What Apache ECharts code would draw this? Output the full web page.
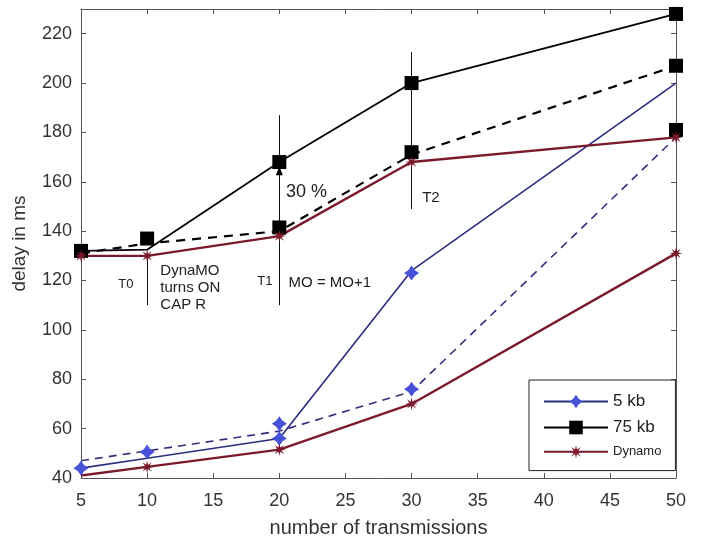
<!DOCTYPE html>
<html><head><meta charset="utf-8">
<script src="https://cdn.jsdelivr.net/npm/echarts@6/dist/echarts.min.js"></script>
<style>html,body{margin:0;padding:0;background:#fff}#c{width:705px;height:545px}</style>
</head><body><div id="c"></div>
<script>
// ---- data ----
const xs = [5, 10, 20, 30, 50];
const xTicks = [5, 10, 15, 20, 25, 30, 35, 40, 45, 50];
const yTicks = [40, 60, 80, 100, 120, 140, 160, 180, 200, 220];
const black75Solid = [132, 132.5, 168, 200, 228];
const black75Dashed = [131, 135, 140, 171, 207];
const dynamoUpper = [130, 130, 138, 168, 178];
const dynamoLower = [41, 44.5, 51.5, 70, 131];
const blue5Solid = [44, 48, 56, 124, 200];
const blue5Dashed = [47, 51, 59, 75, 178];
const squareX = [5, 10, 20, 20, 30, 30, 50, 50, 50];
const squareY = [132, 137, 168, 141.5, 200, 172, 228, 207, 181];
const starX = [5, 10, 20, 20, 30, 30];
const starY = [44, 50.5, 56, 62, 123, 76];
const astX = [5, 10, 20, 30, 50, 10, 20, 30, 50];
const astY = [130, 130, 138, 168, 178, 44.5, 51.5, 70, 131];
const vLines = [[10, 131, 110], [20, 187, 110], [30, 212.5, 149]];
const notes = [
  {text: 'T0', x: 8.4, y: 118.3, size: 13, align: 'center'},
  {text: 'DynaMO\nturns ON\nCAP R', x: 11.0, y: 127.5, size: 15, align: 'left', top: true},
  {text: 'T1', x: 18.9, y: 119.5, size: 13, align: 'center'},
  {text: 'MO = MO+1', x: 20.7, y: 119, size: 15, align: 'left'},
  {text: '30 %', x: 20.5, y: 156, size: 18, align: 'left'},
  {text: 'T2', x: 30.8, y: 153.5, size: 15, align: 'left'}
];

// ---- styles ----
function starPath(n, ro, ri, rot) {
  const p = [];
  for (let i = 0; i < 2 * n; i++) {
    const r = i % 2 === 0 ? ro : ri;
    const a = rot + Math.PI * i / n;
    p.push((r * Math.cos(a)).toFixed(3) + ' ' + (r * Math.sin(a)).toFixed(3));
  }
  return 'path://M' + p.join(' L') + ' Z';
}
const starSym = starPath(4, 10, 5.8, -Math.PI / 2);
const astSym = starPath(8, 10, 3.6, -Math.PI / 2);
const BLUE_LINE = '#2b2d80', BLUE_MK = '#4852d8', MAROON = '#7a1a2c', FONT = 'Liberation Sans, Arial, sans-serif';

const pair = (a, b) => a.map((x, i) => [x, b[i]]);

const chart = echarts.init(document.getElementById('c'));
const axisCommon = {
  type: 'value', axisLine: {show: true, lineStyle: {color: '#555', width: 1}},
  axisTick: {inside: true, length: 5, lineStyle: {color: '#555'}}, splitLine: {show: false}
};
chart.setOption({
  animation: false,
  backgroundColor: '#fff',
  grid: {left: 81, right: 29, top: 9, bottom: 67},
  xAxis: [
    Object.assign({}, axisCommon, {min: 5, max: 50, interval: 5, position: 'bottom',
      name: 'number of transmissions', nameLocation: 'middle', nameGap: 40,
      nameTextStyle: {fontSize: 20, color: '#333', fontFamily: FONT},
      axisLabel: {fontSize: 18, color: '#333', margin: 14, fontFamily: FONT,
        formatter: v => xTicks.includes(v) ? String(v) : ''}}),
    Object.assign({}, axisCommon, {min: 5, max: 50, interval: 5, position: 'top', axisLabel: {show: false}})
  ],
  yAxis: [
    Object.assign({}, axisCommon, {min: 40, max: 230, interval: 20, position: 'left',
      name: 'delay in ms', nameLocation: 'middle', nameGap: 52, nameRotate: 90,
      nameTextStyle: {fontSize: 19, color: '#333', fontFamily: FONT},
      axisLabel: {fontSize: 18, color: '#333', margin: 9, fontFamily: FONT, showMaxLabel: false,
        formatter: v => yTicks.includes(v) ? String(v) : ''}}),
    Object.assign({}, axisCommon, {min: 40, max: 230, interval: 20, position: 'right', axisLabel: {show: false}})
  ],
  legend: {
    data: [{name: '5 kb'}, {name: '75 kb'}, {name: 'Dynamo', textStyle: {fontSize: 13}}],
    orient: 'vertical', left: 529, top: 380, padding: [13, 14, 12, 14],
    itemWidth: 64, itemHeight: 17, itemGap: 9,
    borderColor: '#222', borderWidth: 1, backgroundColor: '#fff', borderRadius: 0,
    textStyle: {fontSize: 17, color: '#222', fontFamily: FONT}
  },
  series: [
    {name: '5 kb', type: 'line', data: pair(xs, blue5Solid), symbol: starSym, showSymbol: false, symbolSize: 14,
      lineStyle: {color: BLUE_LINE, width: 1.6}, itemStyle: {color: BLUE_MK}, z: 3},
    {name: '5 kb dashed', type: 'line', data: pair(xs, blue5Dashed), showSymbol: false, symbol: 'none',
      lineStyle: {color: '#3a2c7c', width: 1.6, type: [8, 6]}, z: 3},
    {name: '75 kb', type: 'line', data: pair(xs, black75Solid), symbol: 'rect', showSymbol: false, symbolSize: 14,
      lineStyle: {color: '#000', width: 1.8}, itemStyle: {color: '#000'}, z: 3},
    {name: '75 kb dashed', type: 'line', data: pair(xs, black75Dashed), showSymbol: false, symbol: 'none',
      lineStyle: {color: '#000', width: 2.2, type: [9, 7]}, z: 3,
      markLine: {silent: true, symbol: 'none', animation: false, label: {show: false},
        lineStyle: {color: '#111', width: 1, type: 'solid'},
        data: vLines.map(v => [{coord: [v[0], v[1]]}, {coord: [v[0], v[2]]}])},
      markPoint: {silent: true, symbol: 'triangle', symbolSize: [7, 9], itemStyle: {color: '#000'}, label: {show: false},
        data: [{coord: [20, 164.5]}]}},
    {name: 'Dynamo', type: 'line', data: pair(xs, dynamoUpper), symbol: astSym, showSymbol: false, symbolSize: 13,
      lineStyle: {color: MAROON, width: 2.4}, itemStyle: {color: MAROON}, z: 4},
    {name: 'Dynamo lower', type: 'line', data: pair(xs, dynamoLower), showSymbol: false, symbol: 'none',
      lineStyle: {color: MAROON, width: 2.4}, z: 4},
    {name: 'sq', type: 'scatter', data: pair(squareX, squareY), symbol: 'rect', symbolSize: 14,
      itemStyle: {color: '#000', opacity: 1}, z: 5},
    {name: 'st', type: 'scatter', data: pair(starX, starY), symbol: starSym, symbolSize: 15,
      itemStyle: {color: BLUE_MK, opacity: 1}, z: 6},
    {name: 'as', type: 'scatter', data: pair(astX, astY), symbol: astSym, symbolSize: 13,
      itemStyle: {color: MAROON, opacity: 1}, z: 6}
  ]
});

chart.setOption({
  graphic: notes.map(n => {
    const p = chart.convertToPixel({gridIndex: 0}, [n.x, n.y]);
    return {type: 'text', x: p[0], y: p[1], silent: true, z: 10,
      style: {text: n.text, fill: '#222', font: n.size + 'px ' + FONT,
        textAlign: n.align, textVerticalAlign: n.top ? 'top' : 'middle', lineHeight: 17}};
  })
});
</script></body></html>
